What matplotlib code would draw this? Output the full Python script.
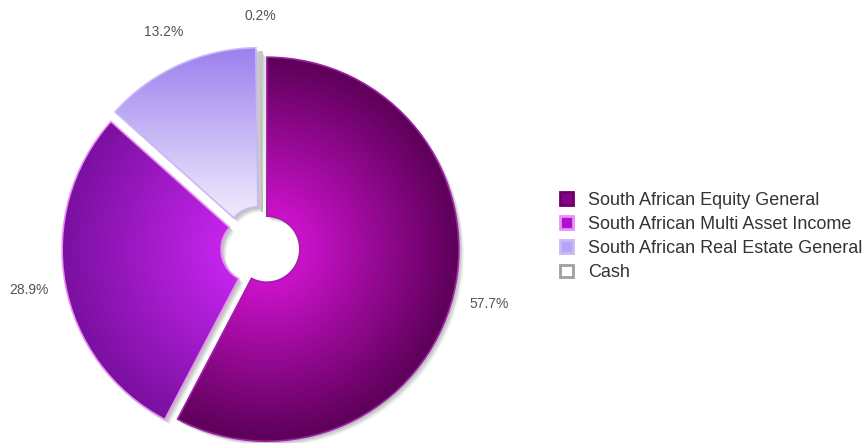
import numpy as np
import matplotlib.pyplot as plt
from matplotlib.patches import Patch, Wedge
from matplotlib.colors import to_rgb

plt.rcParams['font.family'] = ['Liberation Sans', 'DejaVu Sans']

# data
labels = ['South African Equity General', 'South African Multi Asset Income',
          'South African Real Estate General', 'Cash']
values = [57.7, 28.9, 13.2, 0.2]

# colours: inner (near hole) -> outer
inner_cols = ['#cc12cc', '#c424ec', '#ece6fc', '#f4f4f4']
outer_cols = ['#5c0058', '#7a10a0', '#9c80ee', '#d8d8d8']
edge_cols = ['#a020a8', '#e890f4', '#c8b8f8', '#c0c0c0']
legend_face = ['#8a0088', '#b010d0', '#b8a4f4', '#ffffff']
legend_edge = ['#6a0068', '#e890f4', '#c8b8f8', '#a0a0a0']

fig = plt.figure(figsize=(8.67, 4.43), dpi=100)
ax = fig.add_axes([0, 0, 1, 1])

cx, cy = 262, 195
R = 192
hole = 33
explode = [5, 8, 9, 4]

wedges, texts, autotexts = ax.pie(
    values, startangle=90, counterclock=False, center=(cx, cy), radius=R,
    explode=explode, autopct='%1.1f%%', pctdistance=1.19, labeldistance=None,
    wedgeprops=dict(width=R - hole, linewidth=1.2),
    textprops=dict(fontsize=10, color='#555555'), frame=True)
ax.set_xlim(0, 867)
ax.set_ylim(0, 443)
ax.set_aspect('equal')
ax.axis('off')

for i, w in enumerate(wedges):
    # soft shadow
    for dx, a in [(5, 0.06), (4, 0.08), (3, 0.10), (2, 0.10)]:
        sh = Wedge((w.center[0] + dx, w.center[1] - dx), R, w.theta1, w.theta2,
                   width=R - hole, facecolor='#404040', edgecolor='none',
                   alpha=a, zorder=0.5)
        ax.add_patch(sh)
    w.set_facecolor('none')
    w.set_edgecolor(edge_cols[i])
    w.set_zorder(3)
    # radial gradient clipped to wedge
    wx, wy = w.center
    n = 400
    xs = np.linspace(wx - R - 2, wx + R + 2, n)
    ys = np.linspace(wy - R - 2, wy + R + 2, n)
    X, Y = np.meshgrid(xs, ys)
    t = np.clip((np.hypot(X - wx, Y - wy) - hole) / (R - hole), 0, 1)
    if i == 2:
        t = np.clip((Y - (wy + hole)) / (R - hole), 0, 1)
    c0 = np.array(to_rgb(inner_cols[i]))
    c1 = np.array(to_rgb(outer_cols[i]))
    img = c0[None, None, :] * (1 - t[..., None]) + c1[None, None, :] * t[..., None]
    im = ax.imshow(img, extent=(xs[0], xs[-1], ys[0], ys[-1]), origin='lower',
                   zorder=2, interpolation='bilinear')
    im.set_clip_path(w)

ax.set_xlim(0, 867)
ax.set_ylim(0, 443)

# legend
handles = [Patch(facecolor=legend_face[i], edgecolor=legend_edge[i], linewidth=2)
           for i in range(len(labels))]
leg = ax.legend(handles, labels, loc='upper left', bbox_to_anchor=(0.638, 0.584),
                frameon=False, fontsize=13, handlelength=0.7, handleheight=0.7,
                handletextpad=0.85, labelspacing=0.4, labelcolor='#333333',
                borderaxespad=0)

fig.savefig('out.png', dpi=100)
